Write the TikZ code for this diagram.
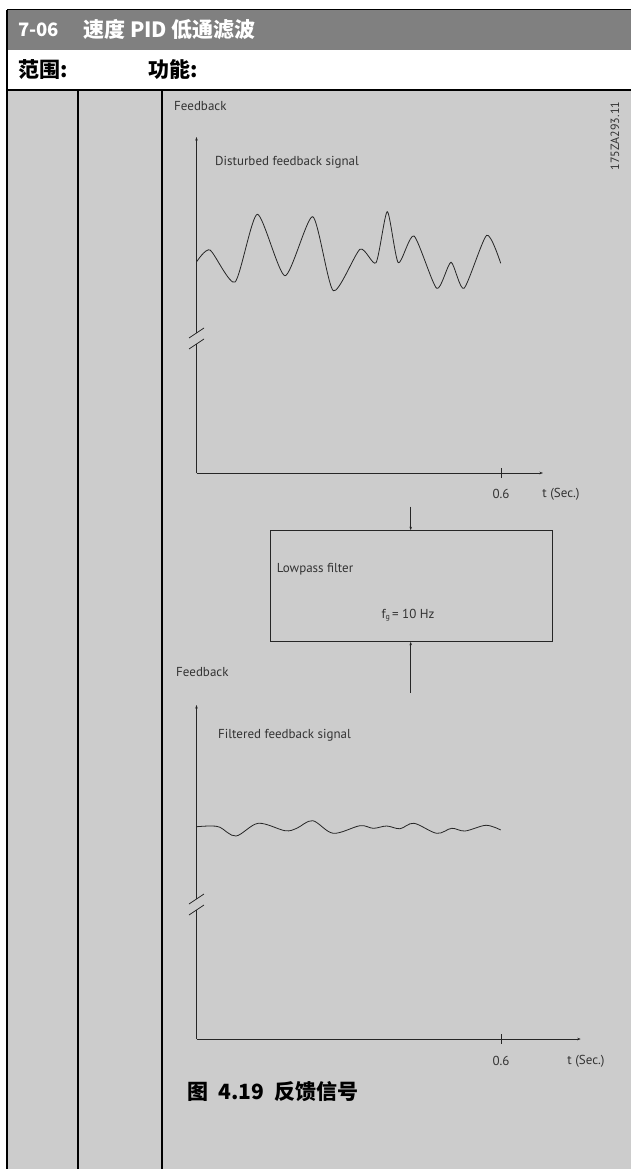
\documentclass[tikz,border=0pt]{standalone}
\usepackage{fontspec}
\setmainfont{PT Sans}
\newfontfamily\cjk{Noto Sans CJK SC}
\usetikzlibrary{arrows.meta,positioning}
\definecolor{band}{HTML}{808080}
\definecolor{panel}{HTML}{CCCCCC}
\definecolor{ink}{HTML}{333333}

\begin{document}
\begin{tikzpicture}[x=1pt,y=-1pt,>={Stealth[length=3.5pt,width=2.5pt]},
  lbl/.style={text=ink,font=\fontsize{13}{15}\selectfont,inner sep=0pt},
  head/.style={font=\cjk\bfseries\fontsize{21}{24}\selectfont,inner sep=0pt,anchor=west},
  axis/.style={draw=black!85,line width=0.8pt},
  sig/.style={draw=black!85,line width=0.8pt}]
\useasboundingbox (0,0) rectangle (631,1169);
\fill[white] (0,0) rectangle (631,1169);
\fill[band] (7,10) rectangle (631,50);
\fill[panel] (7,90) rectangle (631,1169);
\draw[line width=1pt] (7,10) -- (631,10);
\draw[line width=2pt] (7,90) -- (631,90);
\draw[line width=1.5pt] (7,10) -- (7,1169);
\foreach \x in {78,162} \draw[line width=1.5pt] (\x,90) -- (\x,1169);

\node[head,text=white,font=\cjk\bfseries\fontsize{18.5}{22}\selectfont] (num) at (18,30) {7-06};
\node[head,text=white] (title) at (83,30) {速度 PID 低通滤波};
\node[head] (range) at (18,70) {范围:};
\node[head] (func) at (148,70) {功能:};

% disturbed signal
\coordinate (o1) at (196.5,473);
\coordinate (y1) at (196.5,137);
\coordinate (x1) at (543,473);
\draw[axis] (o1) -- (196.5,344);
\draw[axis,->] (196.5,333) -- (y1);
\draw[axis,->] (o1) -- (x1);
\draw[axis] (189,338) -- (204,328) (189,349) -- (204,339);
\draw[axis] (501,468) -- (501,478);
\node[lbl,anchor=west] (fb1) at (174,106) {Feedback};
\node[lbl,anchor=west] (dist) at (215,162) {Disturbed feedback signal};
\node[lbl] (ta) at (501,494) {0.6};
\node[lbl] (sa) at (561,494) {t (Sec.)};
\draw[sig] plot[smooth,tension=0.4] coordinates {(196.7,261.7) (210,250) (235,282) (257.3,214.3) (285,275.7) (312.7,216.7) (333.3,290.7) (360,249.3) (376,262.7) (387.3,211.7) (398.3,262.7) (414,236) (436.7,288.3) (451,262.3) (464,288.3) (486.7,235.3) (500.7,263.3)};
\node[rotate=90,text=ink,font=\fontsize{12}{14}\selectfont,inner sep=0pt] (docid) at (615,136) {175ZA293.11};

% filter
\node[draw=black!85,line width=0.9pt,minimum width=282.7pt,minimum height=110.6pt] (lpf) at (411.3,586) {};
\node[lbl,anchor=west] (lpname) at (276.7,569.3) {Lowpass filter};
\node[lbl] (fg) at (408,615.7) {f{\fontsize{8}{8}\selectfont\raisebox{-1pt}{g}}\,= 10 Hz};
\coordinate (in) at (410.7,506.7);
\coordinate (out) at (410.7,693);
\draw[axis,->] (in) -- (in |- lpf.north);
\draw[axis,->] (out) -- (out |- lpf.south);

% filtered signal
\coordinate (o2) at (196.5,1039);
\coordinate (y2) at (196.5,705);
\coordinate (x2) at (580.7,1039);
\draw[axis] (o2) -- (196.5,910);
\draw[axis,->] (196.5,899) -- (y2);
\draw[axis,->] (o2) -- (x2);
\draw[axis] (189,904) -- (204,894) (189,915) -- (204,905);
\draw[axis] (501,1034) -- (501,1044);
\node[lbl,anchor=west] (fb2) at (176,672) {Feedback};
\node[lbl,anchor=west] (filt) at (218,735) {Filtered feedback signal};
\node[lbl] (tb) at (501,1061) {0.6};
\node[lbl] (sb) at (586,1061) {t (Sec.)};
\draw[sig] plot[smooth,tension=0.55] coordinates {(196.7,826.7) (210,826) (220,827.3) (236,836) (258.3,823.3) (285,830.7) (296.7,828.3) (312.7,820.7) (333.3,833.3) (360,825.7) (373.3,828.3) (386.7,826) (400,828.7) (414,823.3) (436.7,833.3) (451.7,828.3) (465,831) (486,825.3) (500.7,830)};

\node[head] (cap) at (187,1092) {图\enspace 4.19\enspace 反馈信号};
\end{tikzpicture}
\end{document}
